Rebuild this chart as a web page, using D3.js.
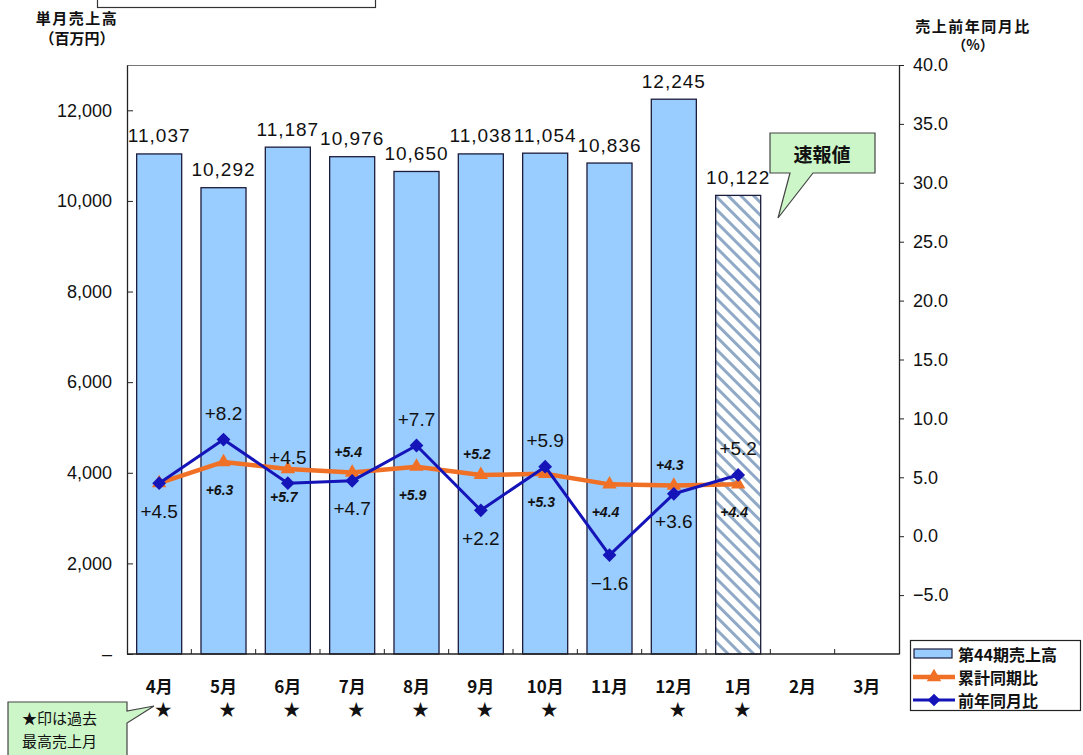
<!DOCTYPE html>
<html>
<head>
<meta charset="utf-8">
<script src="https://cdn.jsdelivr.net/npm/d3@7"></script>
<style>
  html, body { margin: 0; padding: 0; background: #fff; }
  svg { display: block; }
  .num { font-family: "Liberation Sans", Arial, sans-serif; }
  .jp { font-family: "Noto Sans CJK JP", sans-serif; }
</style>
</head>
<body>
<svg id="chart" width="1083" height="755"></svg>
<script>
// Fiscal-year months (April start)
const months = ["4月", "5月", "6月", "7月", "8月", "9月", "10月", "11月", "12月", "1月", "2月", "3月"];
// Monthly sales, 44th term (millions of yen)
const sales = [11037, 10292, 11187, 10976, 10650, 11038, 11054, 10836, 12245, 10122];
// Last month is a preliminary figure
const preliminary = [false, false, false, false, false, false, false, false, false, true];
// Cumulative year-on-year (%)
const cumulativeYoY = [4.5, 6.3, 5.7, 5.4, 5.9, 5.2, 5.3, 4.4, 4.3, 4.4];
// Single-month year-on-year (%)
const monthlyYoY = [4.5, 8.2, 4.5, 4.7, 7.7, 2.2, 5.9, -1.6, 3.6, 5.2];
// Months that set an all-time sales record
const recordMonth = [true, true, true, true, true, true, true, false, true, true, false, false];
// Axis ticks
const leftTicks = [0, 2000, 4000, 6000, 8000, 10000, 12000];
const rightTicks = [-5, 0, 5, 10, 15, 20, 25, 30, 35, 40];
// Which side of each point its value label sits on
const monthlyLabelSide = ["below", "above", "above", "below", "above", "below", "above", "below", "below", "above"];
const cumulativeLabelSide = [null, "below", "below", "above", "below", "above", "below", "below", "above", "below"];

const svg = d3.select("#chart");
const plot = { left: 127, right: 899, top: 65, bottom: 654 };

const x = d3.scaleBand().domain(months)
  .range([plot.left, plot.right]).paddingInner(0.3).paddingOuter(0.15);
const yL = d3.scaleLinear().domain([0, 13000]).range([plot.bottom, plot.top]);
const yR = d3.scaleLinear().domain([-10, 40]).range([plot.bottom, plot.top]);

const barFill = "#99ccff", barStroke = "#1c1c3c";
const orange = "#f07026", blue = "#1414b8";

// Hatch pattern for the preliminary bar (stripes running down to the right)
const defs = svg.append("defs");
const pat = defs.append("pattern").attr("id", "hatch").attr("patternUnits", "userSpaceOnUse")
  .attr("width", 9).attr("height", 9).attr("patternTransform", "rotate(45)");
pat.append("rect").attr("width", 9).attr("height", 9).attr("fill", "#fff");
pat.append("rect").attr("x", 0).attr("y", 0).attr("width", 9).attr("height", 3).attr("fill", "#8fa9c6");

// Plot frame: top border
svg.append("line").attr("x1", plot.left).attr("x2", plot.right)
  .attr("y1", plot.top + 0.5).attr("y2", plot.top + 0.5).attr("stroke", "#777").attr("stroke-width", 1);

// Bars
const barData = sales.map((v, i) => ({ m: months[i], v, pre: preliminary[i] }));
svg.append("g").selectAll("rect").data(barData).join("rect")
  .attr("x", d => x(d.m))
  .attr("y", d => yL(d.v))
  .attr("width", x.bandwidth())
  .attr("height", d => yL(0) - yL(d.v))
  .attr("fill", d => d.pre ? "url(#hatch)" : barFill)
  .attr("stroke", barStroke).attr("stroke-width", 1.3);

// Bar value labels
svg.append("g").selectAll("text").data(barData).join("text")
  .attr("class", "num")
  .attr("x", d => x(d.m) + x.bandwidth() / 2)
  .attr("y", d => yL(d.v) - 18)
  .attr("text-anchor", "middle").attr("dominant-baseline", "central")
  .attr("font-size", 19).attr("letter-spacing", 1).attr("fill", "#111")
  .text(d => d3.format(",")(d.v));

// Left axis
const axL = svg.append("g").attr("transform", `translate(${plot.left},0)`)
  .call(d3.axisLeft(yL).tickValues(leftTicks).tickSizeInner(-6).tickSizeOuter(0).tickPadding(15)
    .tickFormat(v => v === 0 ? "–" : d3.format(",")(v)));
axL.select(".domain").attr("stroke", "#222").attr("stroke-width", 1.3);
axL.selectAll(".tick line").attr("stroke", "#222");
axL.selectAll("text").attr("class", "num").attr("font-size", 18).attr("fill", "#111");

// Right axis
const axR = svg.append("g").attr("transform", `translate(${plot.right},0)`)
  .call(d3.axisRight(yR).tickValues(rightTicks).tickSizeInner(5).tickSizeOuter(0).tickPadding(9)
    .tickFormat(d3.format(".1f")));
axR.select(".domain").attr("stroke", "#222").attr("stroke-width", 1.3);
axR.selectAll(".tick line").attr("stroke", "#222");
axR.selectAll("text").attr("class", "num").attr("font-size", 18).attr("fill", "#111");

// Bottom axis with ticks at category boundaries
svg.append("line").attr("x1", plot.left).attr("x2", plot.right)
  .attr("y1", plot.bottom).attr("y2", plot.bottom).attr("stroke", "#222").attr("stroke-width", 1.3);
const step = x.step();
svg.append("g").selectAll("line").data(months.slice(1)).join("line")
  .attr("x1", d => x(d) - (step - x.bandwidth()) / 2)
  .attr("x2", d => x(d) - (step - x.bandwidth()) / 2)
  .attr("y1", plot.bottom).attr("y2", plot.bottom - 5).attr("stroke", "#222");

// Month labels and record stars
svg.append("g").selectAll("text").data(months).join("text")
  .attr("class", "jp")
  .attr("x", d => x(d) + x.bandwidth() / 2)
  .attr("y", 685)
  .attr("text-anchor", "middle").attr("dominant-baseline", "central")
  .attr("font-size", 17).attr("font-weight", "bold").attr("fill", "#111")
  .text(d => d);
svg.append("g").selectAll("text").data(months.filter((m, i) => recordMonth[i])).join("text")
  .attr("class", "jp")
  .attr("x", d => x(d) + x.bandwidth() / 2 + 4)
  .attr("y", 708)
  .attr("text-anchor", "middle").attr("dominant-baseline", "central")
  .attr("font-size", 17).attr("fill", "#111")
  .text("★");

const cx = i => x(months[i]) + x.bandwidth() / 2;
const pctFmt = d3.format("+.1f");

// Cumulative YoY line (orange, triangles)
const lineGen = d3.line().x((d, i) => cx(i)).y(d => yR(d));
svg.append("path").datum(cumulativeYoY).attr("d", lineGen)
  .attr("fill", "none").attr("stroke", orange).attr("stroke-width", 4.5).attr("stroke-linejoin", "round");
svg.append("g").selectAll("path").data(cumulativeYoY).join("path")
  .attr("transform", (d, i) => `translate(${cx(i)},${yR(d)})`)
  .attr("d", d3.symbol(d3.symbolTriangle, 90)())
  .attr("fill", orange);

// Monthly YoY line (blue, diamonds)
svg.append("path").datum(monthlyYoY).attr("d", lineGen)
  .attr("fill", "none").attr("stroke", blue).attr("stroke-width", 3).attr("stroke-linejoin", "round");
svg.append("g").selectAll("path").data(monthlyYoY).join("path")
  .attr("transform", (d, i) => `translate(${cx(i)},${yR(d)}) rotate(45)`)
  .attr("d", d3.symbol(d3.symbolSquare, 95)())
  .attr("fill", blue);

// Value labels for the lines
svg.append("g").selectAll("text").data(cumulativeYoY.map((v, i) => ({ v, i })).filter(d => cumulativeLabelSide[d.i]))
  .join("text").attr("class", "num")
  .attr("x", d => cx(d.i) - 4)
  .attr("y", d => yR(d.v) + (cumulativeLabelSide[d.i] === "above" ? -21 : 28))
  .attr("text-anchor", "middle").attr("dominant-baseline", "central")
  .attr("font-size", 14).attr("font-weight", "bold").attr("font-style", "italic").attr("fill", "#111")
  .text(d => pctFmt(d.v));
svg.append("g").selectAll("text").data(monthlyYoY.map((v, i) => ({ v, i })))
  .join("text").attr("class", "num")
  .attr("x", d => cx(d.i))
  .attr("y", d => yR(d.v) + (monthlyLabelSide[d.i] === "above" ? -26 : 28))
  .attr("text-anchor", "middle").attr("dominant-baseline", "central")
  .attr("font-size", 19).attr("fill", "#111")
  .text(d => pctFmt(d.v));

// Axis titles
const titleL = svg.append("g").attr("class", "jp").attr("font-weight", "bold").attr("fill", "#111").attr("text-anchor", "middle");
titleL.append("text").attr("x", 77).attr("y", 17).attr("dominant-baseline", "central").attr("font-size", 15).attr("letter-spacing", 1.5).text("単月売上高");
titleL.append("text").attr("x", 77).attr("y", 37).attr("dominant-baseline", "central").attr("font-size", 15).text("（百万円）");
titleL.append("text").attr("x", 973).attr("y", 25).attr("dominant-baseline", "central").attr("font-size", 15).attr("letter-spacing", 1.5).text("売上前年同月比");
titleL.append("text").attr("x", 973).attr("y", 44).attr("dominant-baseline", "central").attr("font-size", 14).text("（%）");

// Empty heading box at top
svg.append("rect").attr("x", 97.5).attr("y", -5).attr("width", 278).attr("height", 12.5)
  .attr("fill", "#fff").attr("stroke", "#333").attr("stroke-width", 1.2);

// Callout: preliminary figure
const calloutFill = "#ccf5c8", calloutStroke = "#444";
svg.append("path")
  .attr("d", "M770,133 H875 V173 H813 L778,218 L790,173 H770 Z")
  .attr("fill", calloutFill).attr("stroke", calloutStroke).attr("stroke-width", 1.2);
svg.append("text").attr("class", "jp").attr("x", 822).attr("y", 153)
  .attr("text-anchor", "middle").attr("dominant-baseline", "central")
  .attr("font-size", 19).attr("font-weight", "bold").attr("fill", "#111").text("速報値");

// Callout: record-month note
svg.append("path")
  .attr("d", "M8,702 H127 V711 L154,706 L127,723 V760 H8 Z")
  .attr("fill", calloutFill).attr("stroke", calloutStroke).attr("stroke-width", 1.2);
const note = svg.append("g").attr("class", "jp").attr("fill", "#111").attr("font-size", 15);
note.append("text").attr("x", 22).attr("y", 717).attr("dominant-baseline", "central").text("★印は過去");
note.append("text").attr("x", 22).attr("y", 740).attr("dominant-baseline", "central").text("最高売上月");

// Legend
const lg = svg.append("g");
lg.append("rect").attr("x", 910.5).attr("y", 640.5).attr("width", 170).attr("height", 70)
  .attr("fill", "#fff").attr("stroke", "#222").attr("stroke-width", 1.2);
lg.append("rect").attr("x", 914).attr("y", 649).attr("width", 38).attr("height", 9)
  .attr("fill", barFill).attr("stroke", barStroke).attr("stroke-width", 1.2);
lg.append("line").attr("x1", 913).attr("x2", 955).attr("y1", 677).attr("y2", 677)
  .attr("stroke", orange).attr("stroke-width", 4.5);
lg.append("path").attr("transform", "translate(934,677)").attr("d", d3.symbol(d3.symbolTriangle, 90)()).attr("fill", orange);
lg.append("line").attr("x1", 913).attr("x2", 955).attr("y1", 700).attr("y2", 700)
  .attr("stroke", blue).attr("stroke-width", 3);
lg.append("path").attr("transform", "translate(934,700) rotate(45)").attr("d", d3.symbol(d3.symbolSquare, 80)()).attr("fill", blue);
const lgText = lg.append("g").attr("class", "jp").attr("font-weight", "bold").attr("font-size", 16).attr("fill", "#111");
lgText.append("text").attr("x", 958).attr("y", 654).attr("dominant-baseline", "central").text("第44期売上高");
lgText.append("text").attr("x", 958).attr("y", 677).attr("dominant-baseline", "central").text("累計同期比");
lgText.append("text").attr("x", 958).attr("y", 700).attr("dominant-baseline", "central").text("前年同月比");
</script>
</body>
</html>
